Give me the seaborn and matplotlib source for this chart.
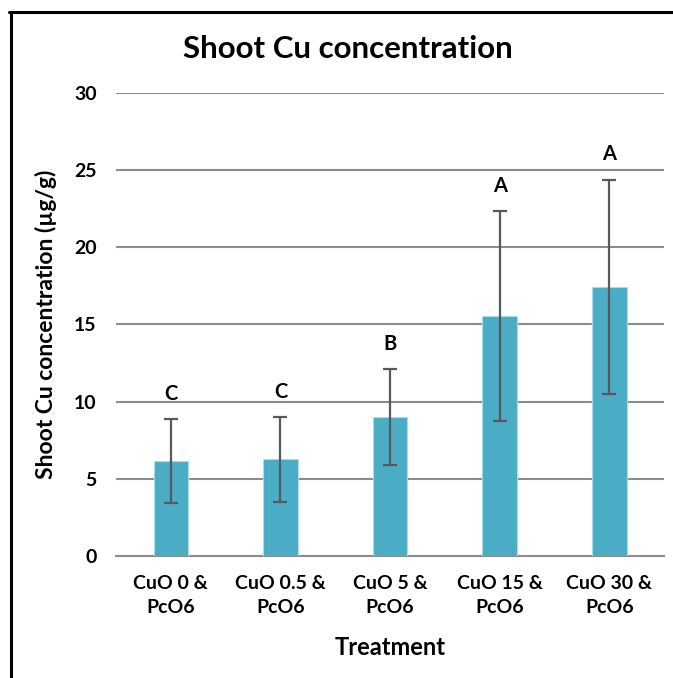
import matplotlib
matplotlib.use("Agg")
import matplotlib.pyplot as plt
import seaborn as sns
import pandas as pd

# Shoot Cu concentration by treatment
treatments = ["CuO 0 &\nPcO6", "CuO 0.5 &\nPcO6", "CuO 5 &\nPcO6",
              "CuO 15 &\nPcO6", "CuO 30 &\nPcO6"]
means = [6.15, 6.25, 9.0, 15.55, 17.45]
errors = [2.7, 2.75, 3.1, 6.8, 6.95]
letters = ["C", "C", "B", "A", "A"]
y_ticks = [0, 5, 10, 15, 20, 25, 30]

df = pd.DataFrame({"Treatment": treatments, "Cu": means})

sns.set_theme(style="white")
plt.rcParams["font.family"] = ["Lato", "DejaVu Sans"]
plt.rcParams["font.weight"] = "bold"
plt.rcParams["text.color"] = "black"
plt.rcParams["axes.labelcolor"] = "black"
plt.rcParams["xtick.color"] = "black"
plt.rcParams["ytick.color"] = "black"

fig = plt.figure(figsize=(6.73, 6.78), dpi=100)
ax = fig.add_axes([0.1724, 0.1804, 0.8146, 0.682])

bar_color = "#4BACC6"
sns.barplot(data=df, x="Treatment", y="Cu", color=bar_color, width=0.316,
            errorbar=None, saturation=1, edgecolor="#A9DCEA", linewidth=0.8,
            ax=ax, zorder=3)

xpos = list(range(len(treatments)))
ax.errorbar(xpos, means, yerr=errors, fmt="none", ecolor="#595959",
            elinewidth=1.6, capsize=5, capthick=1.6, zorder=4)

for x, m, e, lab in zip(xpos, means, errors, letters):
    ax.annotate(lab, xy=(x, m + e), xytext=(0, 11), textcoords="offset points",
                ha="center", va="bottom", fontsize=14.5, fontweight="bold",
                color="black")

ax.set_ylim(0, 30)
ax.set_xlim(-0.5, len(treatments) - 0.5)
ax.set_yticks(y_ticks)
ax.set_yticklabels([str(t) for t in y_ticks], fontsize=14, fontweight="bold")
ax.set_xticks(xpos)
ax.set_xticklabels(treatments, fontsize=14, fontweight="bold", linespacing=1.5)
ax.tick_params(axis="x", length=0, pad=14)
ax.tick_params(axis="y", length=0, pad=14)

ax.yaxis.grid(True, color="#8C8C8C", linewidth=1.5, zorder=0)
ax.xaxis.grid(False)
for side in ["top", "right", "left"]:
    ax.spines[side].set_visible(False)
ax.spines["bottom"].set_color("#8C8C8C")
ax.spines["bottom"].set_linewidth(1.5)

ax.set_xlabel("Treatment", fontsize=17, fontweight="bold", labelpad=14)
ax.set_ylabel("Shoot Cu concentration (µg/g)", fontsize=16.5, fontweight="bold",
              labelpad=12)

fig.text(0.517, 0.928, "Shoot Cu concentration", ha="center", va="center",
         fontsize=22.5, fontweight="bold", color="black")

# partial frame around the chart area
fig.add_artist(plt.Line2D([0.013, 1.0], [0.982, 0.982], color="black",
                          linewidth=2.2, transform=fig.transFigure))
fig.add_artist(plt.Line2D([0.0163, 0.0163], [0.0, 0.982], color="black",
                          linewidth=2.2, transform=fig.transFigure))

fig.savefig("out.png", dpi=100)
